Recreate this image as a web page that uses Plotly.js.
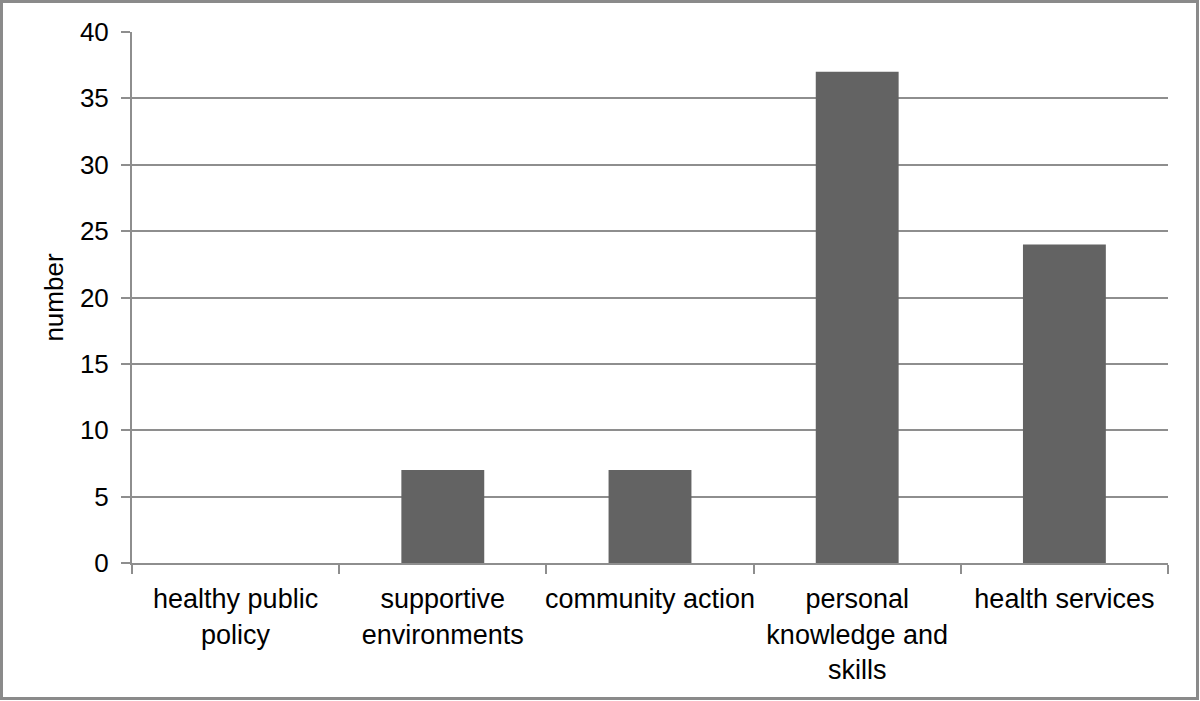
<!DOCTYPE html>
<html>
<head>
<meta charset="utf-8">
<script src="https://cdn.plot.ly/plotly-3.0.1.min.js"></script>
<style>html,body{margin:0;padding:0;background:#fff;}#chart{width:1200px;height:701px;}</style>
</head>
<body>
<div id="chart"></div>
<script>
const categories = ["healthy public<br>policy", "supportive<br>environments", "community action", "personal<br>knowledge and<br>skills", "health services"];
const values = [0, 7, 7, 37, 24];
const yTicks = [0, 5, 10, 15, 20, 25, 30, 35, 40];

const trace = {
  type: "bar",
  x: categories,
  y: values,
  marker: {color: "#636363"},
  hoverinfo: "x+y"
};

const FONT = "Liberation Sans, Arial, Helvetica, sans-serif";

const layout = {
  width: 1200,
  height: 701,
  margin: {l: 132, r: 32, t: 32, b: 138},
  paper_bgcolor: "#fff",
  plot_bgcolor: "#fff",
  bargap: 0.6,
  showlegend: false,
  font: {family: FONT, color: "#000"},
  xaxis: {
    type: "category",
    showline: true,
    linecolor: "#8e8e8e",
    linewidth: 2,
    ticks: "outside",
    tickson: "boundaries",
    ticklen: 9,
    tickwidth: 2,
    tickcolor: "#8e8e8e",
    showgrid: false,
    tickangle: 0,
    tickfont: {size: 27, family: FONT},
    ticklabelstandoff: 11,
    automargin: false
  },
  yaxis: {
    range: [0, 40],
    tickvals: yTicks,
    showline: true,
    linecolor: "#8e8e8e",
    linewidth: 2,
    ticks: "outside",
    ticklen: 9,
    tickwidth: 2,
    tickcolor: "#8e8e8e",
    showgrid: true,
    gridcolor: "#8e8e8e",
    gridwidth: 2,
    zeroline: false,
    tickfont: {size: 26, family: FONT},
    ticklabelstandoff: 7,
    title: {text: "number", font: {size: 26, family: FONT}, standoff: 9},
    automargin: false
  },
  shapes: [{
    type: "rect", xref: "paper", yref: "paper",
    x0: (1.5 - 132) / 1036, x1: (1197.5 - 132) / 1036,
    y0: (563 - 698.5) / 531, y1: (563 - 1.5) / 531,
    line: {color: "#8a8a8a", width: 3},
    fillcolor: "rgba(0,0,0,0)",
    layer: "below"
  }]
};

Plotly.newPlot("chart", [trace], layout, {displayModeBar: false, staticPlot: true});
</script>
</body>
</html>
